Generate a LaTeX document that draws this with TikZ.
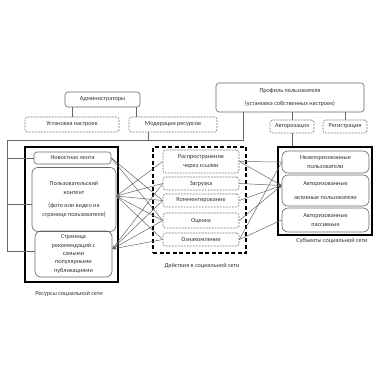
\documentclass[tikz,border=0pt]{standalone}
\usepackage{fontspec}
\setmainfont{Carlito}
\usetikzlibrary{arrows.meta}
\begin{document}
\begin{tikzpicture}[x=1pt,y=-1pt,
  every node/.style={font=\fontsize{6.2}{8.3}\selectfont, text=black!80, inner sep=0pt, align=center},
  solidbox/.style={draw=black!60, rounded corners=3pt, line width=0.6pt},
  roundbox/.style={draw=black!60, rounded corners=6pt, line width=0.6pt},
  dbox/.style={draw=black!55, dash pattern=on 1.8pt off 1.2pt, rounded corners=2.5pt, line width=0.6pt},
  frame/.style={draw=black, line width=1.6pt},
  dframe/.style={draw=black, line width=1.2pt, dash pattern=on 4pt off 2.5pt},
  conn/.style={draw=black!60, line width=0.5pt},
  arr/.style={conn, -{Stealth[length=3.5pt,width=2.6pt]}}
]
\useasboundingbox[fill=white] (0,0) rectangle (380,380);

% top boxes
\node[solidbox, minimum width=75pt, minimum height=15pt] (adm) at (102.5,99.5) {Администраторы};
\node[dbox, minimum width=94pt, minimum height=15pt] (ust) at (72,124.5) {Установка настроек};
\node[dbox, minimum width=88pt, minimum height=15pt] (mod) at (173,124.5) {Модерация ресурсов};
\node[solidbox, minimum width=148pt, minimum height=29pt] (prof) at (290,97.5) {Профиль пользователя\\[5.5pt](установка собственных настроек)};
\node[dbox, minimum width=44pt, minimum height=13pt] (auth) at (292,126.5) {Авторизация};
\node[dbox, minimum width=44pt, minimum height=13pt] (reg) at (345,126.5) {Регистрация};

% frames
\node[frame, minimum width=93pt, minimum height=135pt] (lframe) at (71.5,214.5) {};
\node[dframe, minimum width=93pt, minimum height=106pt] (mframe) at (199.5,200) {};
\node[frame, minimum width=94pt, minimum height=88pt] (rframe) at (325,191) {};

% left resources
\node[solidbox, minimum width=77pt, minimum height=12pt] (nl) at (72.5,158) {Новостная лента};
\node[roundbox, minimum width=84pt, minimum height=64pt] (uc) at (74,199.5) {Пользовательский\\контент\\[5.5pt](фото или видео на\\странице пользователя)};
\node[roundbox, minimum width=77pt, minimum height=46pt] (sr) at (73.5,254) {Страница\\рекомендаций с\\самыми\\популярными\\публикациями};
\node (lres) at (69,294) {Ресурсы социальной сети};

% middle actions
\node[dbox, minimum width=76pt, minimum height=23pt] (r1) at (201,161.5) {Распространение\\через ссылки};
\node[dbox, minimum width=76pt, minimum height=13pt] (r2) at (201,183.5) {Загрузка};
\node[dbox, minimum width=76pt, minimum height=13pt] (r3) at (201,200.5) {Комментирование};
\node[dbox, minimum width=76pt, minimum height=15pt] (r4) at (201,220.5) {Оценка};
\node[dbox, minimum width=76pt, minimum height=13pt] (r5) at (201,239.5) {Ознакомление};
\node (lact) at (202,266) {Действия в социальной сети};

% right subjects
\node[roundbox, minimum width=87pt, minimum height=22pt] (u1) at (325.5,162) {Неавторизованные\\пользователи};
\node[roundbox, minimum width=87pt, minimum height=31pt] (u2) at (325.5,190.5) {Авторизованные\\[5.5pt]активные пользователи};
\node[roundbox, minimum width=87pt, minimum height=24pt] (u3) at (325.5,220) {Авторизованные\\пассивные};
\node (lsub) at (332,241) {Субъекты социальной сети};

% anchor points
\coordinate (am) at (136,0);
\coordinate (busL) at (7,140);
\coordinate (busR) at (243,140);
\coordinate (mx) at (148,140);
\coordinate (ucin) at ([yshift=3.5pt]uc.east);
\coordinate (ucl) at ([yshift=-4.5pt]uc.west);
\coordinate (srin) at ([yshift=5pt]sr.east);
\coordinate (srl) at ([yshift=3pt]sr.west);
\coordinate (u2in) at ([yshift=5pt]u2.west);

% top connectors
\draw[conn] (adm.south -| ust.north) -- (ust.north);
\draw[conn] (adm.south -| am) -- (mod.north -| am);
\draw[conn] (prof.south -| auth.north) -- (auth.north);
\draw[conn] (prof.south -| reg.north) -- (reg.north);
\draw[conn] (auth.south) -- (auth.south |- rframe.north);
\draw[conn] (prof.south -| busR) -- (busR) -- (busL) |- (srl);
\draw[conn] (mod.south -| mx) -- (mx);
\draw[conn] (busL |- nl.west) -- (nl.west);
\draw[conn] (busL |- ucl) -- (ucl);

% left-middle connectors
\draw[conn] (nl.east) -- (r3.west);
\draw[conn] (nl.east) -- (r4.west);
\foreach \r in {r1,r2,r3,r4,r5} \draw[arr] (\r.west) -- (ucin);
\foreach \r in {r2,r3,r4,r5} \draw[arr] (\r.west) -- (srin);

% middle-right connectors
\draw[conn] (r1.east) -- (u1.west);
\foreach \r in {r1,r2,r3,r4} \draw[arr] (\r.east) -- (u2in);
\draw[conn] (r5.east) -- (u1.west);
\draw[conn] (r5.east) -- (u3.west);
\end{tikzpicture}
\end{document}
